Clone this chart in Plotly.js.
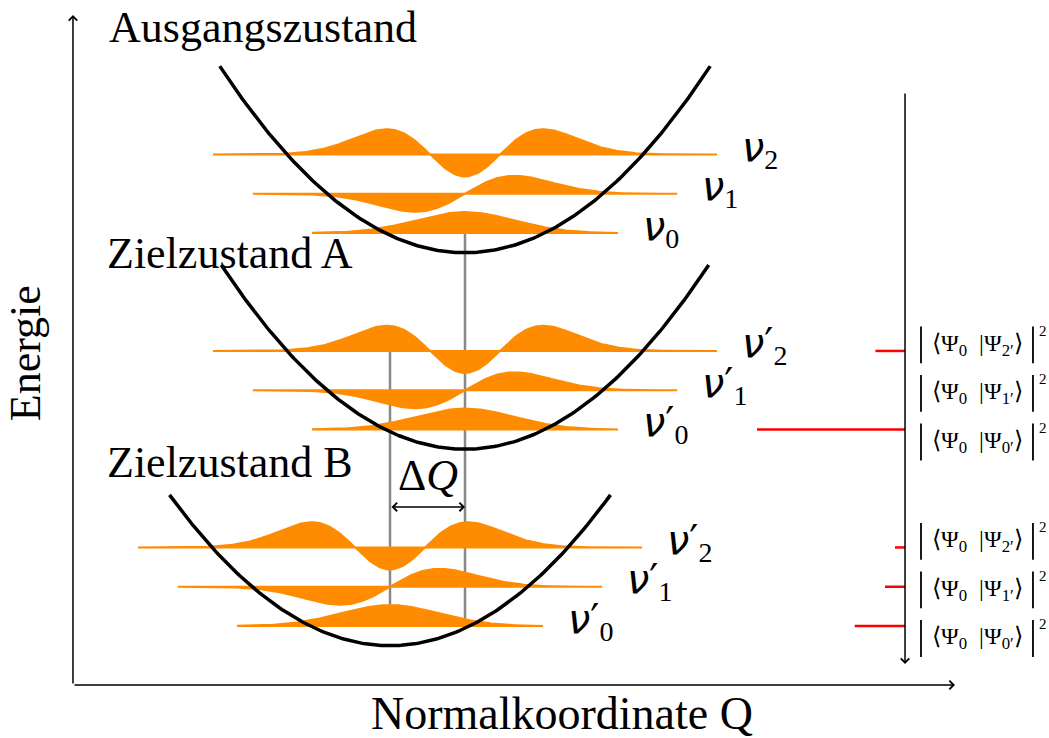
<!DOCTYPE html>
<html><head><meta charset="utf-8">
<script src="https://cdn.plot.ly/plotly-3.0.1.min.js"></script>
<style>html,body{margin:0;padding:0;background:#fff}</style>
</head><body><div id="chart" style="width:1049px;height:738px"></div>
<script>
// ---------------- data ----------------
const stateNames = ["Ausgangszustand", "Zielzustand A", "Zielzustand B"];
const stateCenterQ = [0, 0, -1];          // position of potential minimum (units of ΔQ)
const stateMinE = [11, 6, 1];              // energy of potential minimum (units of ħω)
const stateHalfWidthQ = [3.27, 3.25, 2.94];// drawn extent of each parabola
const curvature = 0.444;                   // E per Q²
const levels = [0, 1, 2];
const levelHalfWidthQ = [2.04, 2.83, 3.36];
const waveAmplitude = [0.534, 0.458, 0.56];
const xiUnitQ = 0.66;
const NU = "<span style='font-family:DejaVu Sans'><i>ν</i></span>";
const PRIME = "<span style='font-family:DejaVu Sans'>′</span>";
const labelsInitial = [NU + "<sub>0</sub>", NU + "<sub>1</sub>", NU + "<sub>2</sub>"];
const labelsTarget  = [NU + PRIME + "<sub>0</sub>", NU + PRIME + "<sub>1</sub>", NU + PRIME + "<sub>2</sub>"];
const fcIntensityA = [1.0, 0.0, 0.2];
const fcIntensityB = [0.34, 0.135, 0.068];
const fcLabels = ["⟨Ψ<sub>0</sub>\u00a0\u00a0|Ψ<sub>0′</sub>⟩", "⟨Ψ<sub>0</sub>\u00a0\u00a0|Ψ<sub>1′</sub>⟩", "⟨Ψ<sub>0</sub>\u00a0\u00a0|Ψ<sub>2′</sub>⟩"];
const xAxisTitle = "Normalkoordinate Q";
const yAxisTitle = "Energie";
const deltaLabel = "Δ<i>Q</i>";

// ---------------- helpers ----------------
const ORANGE = "#ff8c00";
const SERIF = "Liberation Serif";
function wave(n, xi) {
  const g = Math.exp(-xi * xi / 2);
  if (n === 0) return g;
  if (n === 1) return xi * g / Math.exp(-0.5);
  return (2 * xi * xi - 1) * g;
}
const traces = [];
const annotations = [];
const shapes = [];

// gray drop lines
const eLevel = (s, n) => stateMinE[s] + n + 0.5;
const xiB = (stateCenterQ[0] - stateCenterQ[2]) / xiUnitQ;
traces.push({x:[stateCenterQ[0], stateCenterQ[0]], y:[eLevel(0,0), eLevel(2,0) + waveAmplitude[0]*wave(0, xiB)],
  mode:"lines", line:{color:"#888888", width:2.5}, hoverinfo:"skip"});
traces.push({x:[stateCenterQ[2], stateCenterQ[2]], y:[eLevel(1,2), eLevel(2,0)],
  mode:"lines", line:{color:"#888888", width:2.5}, hoverinfo:"skip"});

// wavefunctions
for (let s = 0; s < 3; s++) {
  for (const n of levels) {
    const E = eLevel(s, n), q0 = stateCenterQ[s], hw = levelHalfWidthQ[n];
    const xs = [], ys = [];
    const N = 300;
    for (let i = 0; i <= N; i++) {
      const q = q0 - hw + 2 * hw * i / N;
      xs.push(q); ys.push(E + waveAmplitude[n] * wave(n, (q - q0) / xiUnitQ));
    }
    xs.push(q0 + hw, q0 - hw); ys.push(E, E);
    traces.push({x:xs, y:ys, mode:"lines", fill:"toself", fillcolor:ORANGE,
      line:{color:ORANGE, width:2}, hoverinfo:"skip"});
    const lx = q0 + hw + 0.30;
    annotations.push({x:lx, y:E, xref:"x", yref:"y", xanchor:"left", yanchor:"middle", yshift:5,
      text:(s === 0 ? labelsInitial[n] : labelsTarget[n]), showarrow:false,
      font:{family:SERIF, size:40, color:"#000"}});
  }
}

// parabolas
for (let s = 0; s < 3; s++) {
  const xs = [], ys = [];
  const N = 200, q0 = stateCenterQ[s], hw = stateHalfWidthQ[s];
  for (let i = 0; i <= N; i++) {
    const q = q0 - hw + 2 * hw * i / N;
    xs.push(q); ys.push(stateMinE[s] + curvature * (q - q0) * (q - q0));
  }
  traces.push({x:xs, y:ys, mode:"lines", line:{color:"#000", width:3.5}, hoverinfo:"skip"});
}

// Franck-Condon intensities
const fcAxisQ = 5.867, fcScale = 1.973;
[[1, fcIntensityA], [2, fcIntensityB]].forEach(([s, inten]) => {
  for (const n of levels) {
    const E = eLevel(s, n);
    if (inten[n] > 0) {
      traces.push({x:[fcAxisQ - inten[n] * fcScale, fcAxisQ], y:[E, E], mode:"lines",
        line:{color:"#ff0000", width:2.5}, hoverinfo:"skip"});
    }
    const yc = eLevel(s, 1) - 0.08 + (n - 1) * 1.235;
    shapes.push({type:"line", xref:"x", yref:"y", x0:6.08, x1:6.08, y0:yc - 0.47, y1:yc + 0.47, line:{color:"#000", width:1.8}});
    shapes.push({type:"line", xref:"x", yref:"y", x0:7.573, x1:7.573, y0:yc - 0.47, y1:yc + 0.47, line:{color:"#000", width:1.8}});
    annotations.push({x:6.83, y:yc, xref:"x", yref:"y", xanchor:"center", yanchor:"middle", text:fcLabels[n],
      showarrow:false, font:{family:SERIF, size:24, color:"#000"}});
    annotations.push({x:7.62, y:yc + 0.36, xref:"x", yref:"y", xanchor:"left", yanchor:"middle", text:"2",
      showarrow:false, font:{family:SERIF, size:15, color:"#000"}});
  }
});

// axes arrows
const arrow = (x, y, ax, ay, extra) => Object.assign({x, y, ax, ay, xref:"x", yref:"y", axref:"x", ayref:"y",
  text:"", showarrow:true, arrowhead:4, arrowsize:1.1, arrowwidth:1.5, arrowcolor:"#000", standoff:0, startstandoff:0}, extra || {});
annotations.push(arrow(-5.227, 17.05, -5.227, 0));
annotations.push(arrow(6.533, 0, -5.227, 0));
annotations.push(arrow(fcAxisQ, 0.534, fcAxisQ, 15.09));
annotations.push(arrow(stateCenterQ[0], 4.53, stateCenterQ[2], 4.53, {arrowside:"end+start", startarrowhead:4, startarrowsize:1.1}));

// texts
const bigFont = {family:SERIF, size:44, color:"#000"};
annotations.push({x:-4.773, y:16.74, xref:"x", yref:"y", xanchor:"left", yanchor:"middle", text:stateNames[0], showarrow:false, font:bigFont});
annotations.push({x:-4.8, y:10.99, xref:"x", yref:"y", xanchor:"left", yanchor:"middle", text:stateNames[1], showarrow:false, font:bigFont});
annotations.push({x:-4.8, y:5.67, xref:"x", yref:"y", xanchor:"left", yanchor:"middle", text:stateNames[2], showarrow:false, font:bigFont});
annotations.push({x:-0.5, y:5.32, xref:"x", yref:"y", xanchor:"center", yanchor:"middle", text:deltaLabel, showarrow:false, font:{family:SERIF, size:44, color:"#000"}});
annotations.push({x:1.29, y:-0.72, xref:"x", yref:"y", xanchor:"center", yanchor:"middle", text:xAxisTitle, showarrow:false, font:{family:SERIF, size:46, color:"#000"}});
annotations.push({x:-5.85, y:8.45, xref:"x", yref:"y", xanchor:"center", yanchor:"middle", text:yAxisTitle, textangle:-90, showarrow:false, font:{family:SERIF, size:44, color:"#000"}});

Plotly.newPlot("chart", traces, {
  width:1049, height:738, margin:{l:0, r:0, t:0, b:0},
  paper_bgcolor:"#fff", plot_bgcolor:"#fff", showlegend:false,
  xaxis:{range:[-6.2, 7.7867], visible:false, fixedrange:true},
  yaxis:{range:[-1.3486, 17.430], visible:false, fixedrange:true},
  annotations, shapes
}, {staticPlot:true});
</script></body></html>
